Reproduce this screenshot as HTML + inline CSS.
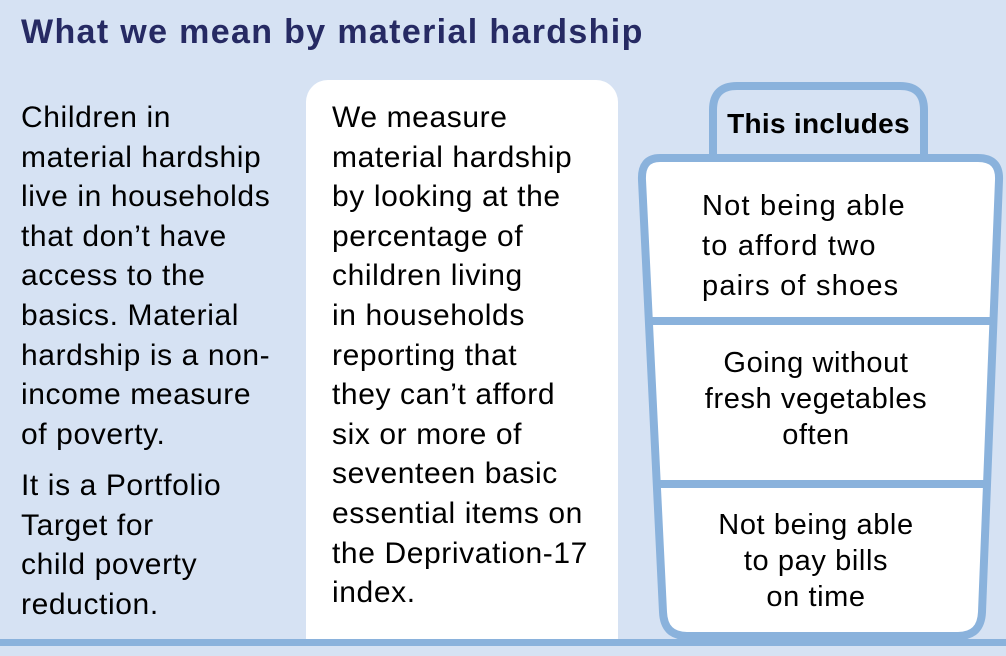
<!DOCTYPE html>
<html><head><meta charset="utf-8"><style>
html,body{margin:0;padding:0}
body{width:1006px;height:656px;background:#d6e2f3;position:relative;overflow:hidden;font-family:"Liberation Sans",sans-serif;color:#000}
.t{position:absolute;left:21px;top:13px;font-size:34px;font-weight:bold;color:#262a63;white-space:nowrap;letter-spacing:1.35px}
.col{position:absolute;font-size:30px;line-height:39.6px;white-space:nowrap;letter-spacing:0.6px}
.box{position:absolute;left:306px;top:80px;width:312px;height:562px;background:#fff;border-radius:22px 22px 0 0}
.ct{position:absolute;text-align:center;font-size:29px;line-height:36px;white-space:nowrap;letter-spacing:0.6px}
</style></head><body>
<div class="t">What we mean by material hardship</div>
<div class="col" style="left:21px;top:98px">Children in<br>material hardship<br>live in households<br>that don’t have<br>access to the<br>basics. Material<br>hardship is a non-<br>income measure<br>of poverty.</div>
<div class="col" style="left:21px;top:466px">It is a Portfolio<br>Target for<br>child poverty<br>reduction.</div>
<div class="box"></div>
<div class="col" style="left:332px;top:98px">We measure<br>material hardship<br>by looking at the<br>percentage of<br>children living<br>in households<br>reporting that<br>they can’t afford<br>six or more of<br>seventeen basic<br>essential items on<br>the Deprivation-17<br>index.</div>
<svg width="1006" height="656" style="position:absolute;left:0;top:0">
<path d="M713 158 V110 Q713 86 737 86 H900 Q924 86 924 110 V158" fill="#d6e2f3" stroke="#8ab2dc" stroke-width="8"/>
<path d="M660 158 H978 Q1000 158 999 180 L982 612 Q981 636 958 636 H687 Q664 636 663 612 L642 180 Q641 158 660 158 Z" fill="#fff" stroke="#8ab2dc" stroke-width="8"/>
<line x1="647" y1="321" x2="994" y2="321" stroke="#8ab2dc" stroke-width="8"/>
<line x1="653" y1="484" x2="988" y2="484" stroke="#8ab2dc" stroke-width="8"/>
<rect x="0" y="639" width="1006" height="7" fill="#8ab2dc"/>
</svg>
<div class="ct" style="left:713px;width:211px;top:106px;font-weight:bold;font-size:28px;letter-spacing:0.3px">This includes</div>
<div class="ct" style="left:660px;width:330px;top:186px;line-height:40px;text-align:left;padding-left:42px;box-sizing:border-box;letter-spacing:1.2px">Not being able<br>to afford two<br>pairs of shoes</div>
<div class="ct" style="left:660px;width:312px;top:345px">Going without<br>fresh vegetables<br>often</div>
<div class="ct" style="left:660px;width:312px;top:507px">Not being able<br>to pay bills<br>on time</div>
</body></html>
